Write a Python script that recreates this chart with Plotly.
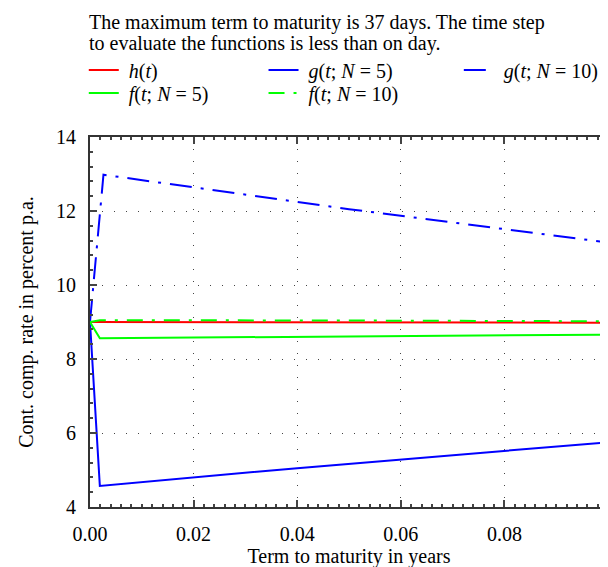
import plotly.graph_objects as go

# data (term in years, rates in percent p.a.)
t_h = [0.0, 0.05, 0.1]
h_vals = [9.0, 8.99, 8.98]

t_f5 = [0.0, 0.0019, 0.05, 0.1]
f5_vals = [9.0, 8.56, 8.61, 8.66]

t_f10 = [0.0, 0.0019, 0.05, 0.1]
f10_vals = [9.0, 9.05, 9.04, 9.02]

t_g5 = [0.0, 0.0019, 0.04, 0.08, 0.1]
g5_vals = [9.0, 4.57, 5.05, 5.52, 5.75]

t_g10 = [0.0, 0.0026, 0.05, 0.1]
g10_vals = [9.0, 12.98, 12.05, 11.15]

x_ticks = [0.0, 0.02, 0.04, 0.06, 0.08]
x_ticklabels = ["0.00", "0.02", "0.04", "0.06", "0.08"]
y_ticks = [4, 6, 8, 10, 12, 14]

title_lines = ["The maximum term to maturity is 37 days. The time step",
               "to evaluate the functions is less than on day."]

FONT = "Liberation Serif"
FS = 20
H = 567
PLOT_TOP, PLOT_BOT = 129, 499

fig = go.Figure()
fig.add_trace(go.Scatter(x=t_h, y=h_vals, mode="lines", name=" <i>h</i>(<i>t</i>)",
                         line=dict(color="#ff0000", width=2), legend="legend"))
fig.add_trace(go.Scatter(x=t_g5, y=g5_vals, mode="lines", name=" <i>g</i>(<i>t</i>; <i>N</i> = 5)",
                         line=dict(color="#0000ff", width=2), legend="legend2"))
fig.add_trace(go.Scatter(x=t_g10, y=g10_vals, mode="lines", name=" <i>g</i>(<i>t</i>; <i>N</i> = 10)",
                         line=dict(color="#0000ff", width=2, dash="22px,9px,3px,9px"), legend="legend3"))
fig.add_trace(go.Scatter(x=t_f5, y=f5_vals, mode="lines", name=" <i>f</i>(<i>t</i>; <i>N</i> = 5)",
                         line=dict(color="#00ff00", width=2), legend="legend4"))
fig.add_trace(go.Scatter(x=t_f10, y=f10_vals, mode="lines", name=" <i>f</i>(<i>t</i>; <i>N</i> = 10)",
                         line=dict(color="#00ff00", width=2, dash="16px,9px,3px,9px"), legend="legend5"))


def leg(x, ypix):
    return dict(font=dict(family=FONT, size=FS, color="black"), bgcolor="rgba(0,0,0,0)",
                xref="paper", yref="container", xanchor="left", yanchor="middle",
                x=x, y=1 - ypix / H, itemwidth=30)


def py(ypix):
    return (PLOT_BOT - ypix) / (PLOT_BOT - PLOT_TOP)


fig.update_layout(
    width=608, height=H,
    margin=dict(l=82, r=6, t=PLOT_TOP, b=H - PLOT_BOT),
    paper_bgcolor="white", plot_bgcolor="white",
    font=dict(family=FONT, size=FS, color="black"),
    showlegend=True,
    legend=leg(-0.012, 62), legend2=leg(0.335, 62), legend3=leg(0.712, 62),
    legend4=leg(-0.012, 85), legend5=leg(0.335, 85),
    annotations=[dict(text=txt, xref="paper", yref="paper", x=-0.006, y=py(yc),
                      xanchor="left", yanchor="middle", showarrow=False,
                      font=dict(family=FONT, size=FS, color="black"))
                 for txt, yc in zip(title_lines, [14, 36])],
)
axis_common = dict(showline=True, linecolor="#333333", linewidth=2, mirror="allticks",
                   ticks="inside", ticklen=7, tickcolor="#444444", tickwidth=1.5,
                   showgrid=True, gridcolor="#444444", gridwidth=1.2, griddash="1.2px,10.8px",
                   zeroline=False, ticklabelstandoff=8,
                   tickfont=dict(family=FONT, size=FS, color="black"))
fig.update_xaxes(range=[0, 0.1], tickvals=x_ticks, ticktext=x_ticklabels,
                 minor=dict(dtick=0.002, ticks="inside", ticklen=3, tickcolor="#444444", showgrid=False),
                 title=dict(text="Term to maturity in years", font=dict(family=FONT, size=FS), standoff=4),
                 **axis_common)
fig.update_yaxes(range=[4, 14], tickvals=y_ticks,
                 minor=dict(dtick=0.4, ticks="inside", ticklen=3, tickcolor="#444444", showgrid=False),
                 title=dict(text="Cont. comp. rate in percent p.a.", font=dict(family=FONT, size=FS), standoff=17),
                 **axis_common)
fig.write_html("out.html")
